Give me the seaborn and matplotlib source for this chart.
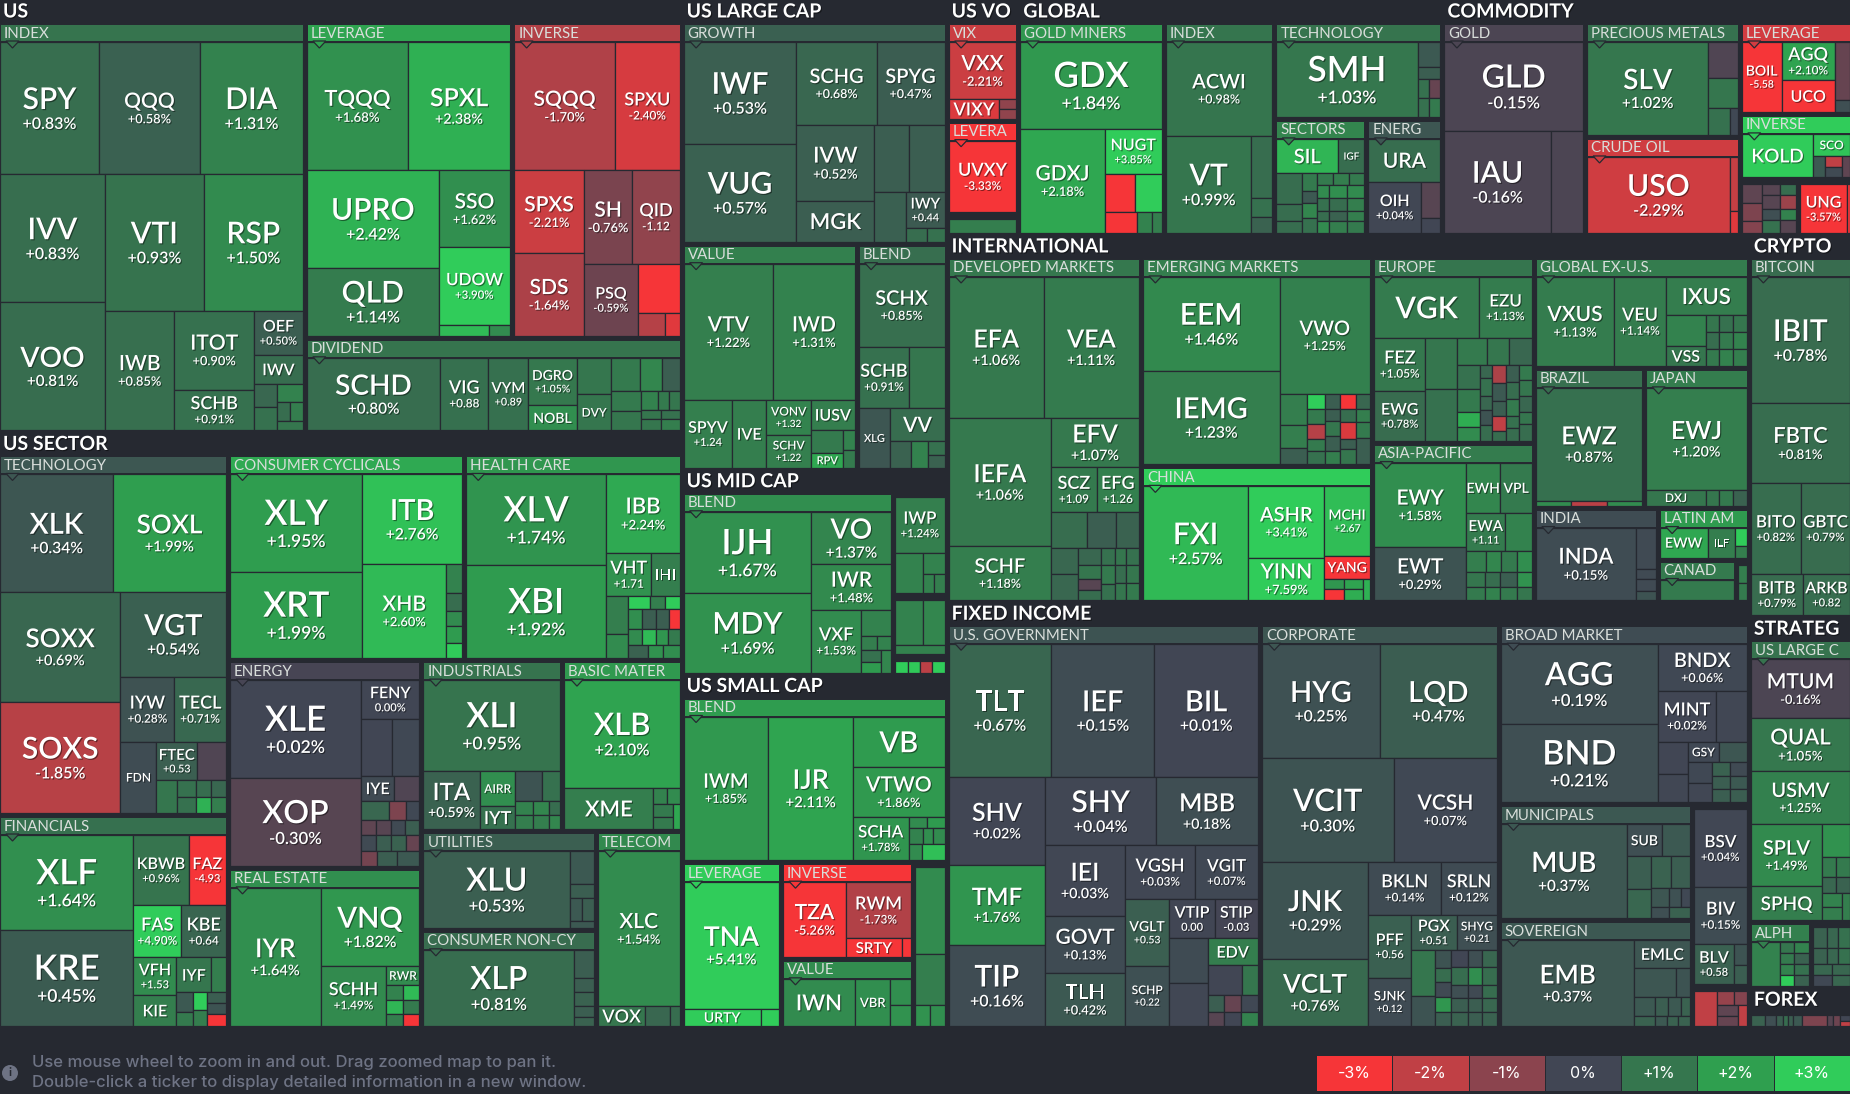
import matplotlib
matplotlib.use("Agg")
import matplotlib.pyplot as plt
import matplotlib.patheffects as pe
from matplotlib.patches import Circle, Polygon
import numpy as np
import pandas as pd
import seaborn as sns

# --- Fund tiles: (ticker, tile size, % change). Nesting = row / column split ---
US_INDEX = [
    [("SPY", 12838, 0.83), ("QQQ", 13100, 0.58), ("DIA", 13362, 1.31)],
    [[("IVV", 13184, 0.83), ("VOO", 13184, 0.81)],
     [[("VTI", 13230, 0.93), ("RSP", 13230, 1.50)],
      [("IWB", 8160, 0.85), [("ITOT", 6162, 0.90), ("SCHB", 3198, 0.91)],
       [("OEF", 2107, 0.50), ("IWV", 1421, 0.80),
        [[("", 520, 0.7), ("", 520, 0.9)],
         [("", 440, 1.3), [("", 250, 0.8), ("", 250, 1.2)], ("", 235, 1.0)]]]]]],
]
US_LEVERAGE = [
    [("TQQQ", 12700, 1.68), ("SPXL", 12830, 2.38)],
    [[("UPRO", 12610, 2.42), ("QLD", 8840, 1.14)],
     [("SSO", 5396, 1.62), ("UDOW", 5396, 3.90), [("", 540, 2.6), ("", 230, 1.5)]]],
]
US_INVERSE = [
    [("SQQQ", 12700, -1.70), ("SPXU", 8128, -2.40)],
    [[("SPXS", 5658, -2.21), ("SDS", 5658, -1.64)],
     [[("SH", 4416, -0.76), ("QID", 4324, -1.12)],
      [("PSQ", 3816, -0.59),
       [("", 2016, -4.0), [("", 620, -1.8), ("", 320, -2.6)]]]]],
]
US_DIVIDEND = [[
    ("SCHD", 9490, 0.80), ("VIG", 3431, 0.88), ("VYM", 2847, 0.89),
    [("DGRO", 2256, 1.05), ("NOBL", 1200, 1.60)],
    [("", 1224, 1.0), ("DVY", 1224, 1.0)],
    [[("", 928, 1.1), ("", 704, 1.4), ("", 576, 0.5)],
     [[("", 580, 1.1), ("", 580, 1.0)],
      [[("", 323, 1.3), ("", 209, 1.1), ("", 190, 1.0)],
       [("", 180, 1.0), ("", 171, 0.9)],
       [("", 220, 1.0), ("", 209, 1.2)]]]]]]

SEC_TECH = [
    [("XLK", 13000, 0.34), ("SOXL", 13000, 1.99)],
    [[("SOXX", 13090, 0.69), ("SOXS", 13090, -1.85)],
     [("VGT", 8881, 0.54), [("IYW", 3402, 0.28), ("TECL", 3276, 0.71)],
      [("FDN", 2520, 0.15),
       [[("FTEC", 1558, 0.53), ("", 1102, -0.2)],
        [("", 660, 1.0), [("", 304, 0.9), ("", 304, 0.9)],
         [[("", 240, 0.8), ("", 240, 0.7)], [("", 240, 2.4), ("", 240, 1.2)]]]]]]],
]
SEC_FIN = [[
    [("XLF", 12445, 1.64), ("KRE", 12576, 0.45)],
    [[("KBWB", 3808, 0.96), ("FAZ", 2584, -4.93)],
     [("FAS", 2448, 4.90), ("KBE", 2295, 0.64)],
     [[("VFH", 1596, 1.53), ("KIE", 1302, 1.20)],
      [[("IYF", 1190, 1.0), ("", 510, 1.2)],
       [[("", 320, 0.4), ("", 224, 1.1)], [("", 252, 3.0), ("", 224, 1.2)],
        [("", 200, 0.5), ("", 200, 0.3), ("", 220, -3.5)]]]]]]]
SEC_CYCL = [[
    [("XLY", 12642, 1.95), ("XRT", 11223, 1.99)],
    [("ITB", 8730, 2.76),
     [("XHB", 7695, 2.60),
      [("", 448, 1.3), ("", 288, 0.8), ("", 240, 1.5), ("", 256, 1.9), ("", 240, 3.0)]]]]]
SEC_HEALTH = [[
    [("XLV", 12467, 1.74), ("XBI", 12878, 1.92)],
    [("IBB", 5625, 2.24), [("VHT", 1890, 1.71), ("IHI", 1218, 1.2)],
     [[("", 800, 1.2), ("", 520, 1.5)],
      [[("", 280, 3.0), ("", 196, 1.2), ("", 196, 3.0)],
       [("", 266, 1.6), ("", 266, 0.5), ("", 228, 0.5), ("", 209, -3.5)],
       [("", 224, 1.5), ("", 224, 2.6), ("", 192, 1.8), ("", 192, 1.1)],
       [("", 256, 0.6), ("", 192, 1.7), ("", 208, 1.6)]]]]]]
SEC_ENERGY = [[
    [("XLE", 12513, 0.02), ("XOP", 11223, -0.30)],
    [("FENY", 2183, 0.00), [("", 1705, 0.02), ("", 1540, 0.05)],
     [("IYE", 825, 0.10), ("", 625, -0.2)],
     [("", 532, 0.7), ("", 323, -0.8), ("", 247, 0.05)],
     [("", 210, -0.4), ("", 210, -0.3), ("", 196, 0.1), ("", 196, 0.5)],
     [("", 240, 0.1), ("", 240, 0.5), ("", 240, 0.6), ("", 224, -0.5)],
     [("", 224, -0.7), ("", 280, 0.5), ("", 322, 0.4)]]]]
SEC_REIT = [[
    ("IYR", 12193, 1.64),
    [("VNQ", 7524, 1.82),
     [("SCHH", 3840, 1.49),
      [("RWR", 612, 1.5), [("", 238, 1.3), ("", 238, 2.6)],
       [("", 238, 2.5), ("", 238, 1.1)], [("", 187, 1.2), ("", 187, -4.0)]]]]]]
SEC_IND = [
    ("XLI", 12150, 0.95),
    [("ITA", 3186, 0.59), [("AIRR", 1225, 1.6), ("IYT", 805, 0.9)],
     [[("", 780, 0.3), ("", 540, 0.9)],
      [[("", 238, 1.3), ("", 238, 1.2)], [("", 224, 1.4), ("", 224, 1.2)],
       [("", 154, 0.8), ("", 154, 1.4)]]]],
]
SEC_BASIC = [
    ("XLB", 12091, 2.10),
    [("XME", 3570, 1.20),
     [[("", 224, 1.3), ("", 192, 1.5)],
      [[("", 240, 1.1), ("", 240, 1.1)], ("", 168, 2.2)]]],
]
SEC_UTIL = [[
    ("XLU", 10868, 0.53),
    [("", 759, 0.4), ("", 299, 0.5), [("", 264, 0.4), ("", 264, 0.5)], ("", 161, 0.4)]]]
SEC_STAPLE = [[
    ("XLP", 11096, 0.81),
    [("", 532, 0.5), ("", 266, 0.5), ("", 247, 0.6), ("", 209, 0.5), ("", 171, 0.6)]]]
SEC_TELE = [
    ("XLC", 12218, 1.54),
    [("VOX", 920, 1.0), ("", 480, 0.7), ("", 180, 0.8)],
]

LARGE_GROWTH = [[
    [("IWF", 11322, 0.53), ("VUG", 10878, 0.57)],
    [[("SCHG", 6560, 0.68), ("SPYG", 5576, 0.47)],
     [[("IVW", 5775, 0.52), ("MGK", 3157, 0.50)],
      [[("", 2310, 0.5), ("", 2310, 0.5)],
       [("", 1550, 0.55),
        [("IWY", 1365, 0.44), [("", 294, 0.8), ("", 238, 0.9)]]]]]]]]
LARGE_VALUE = [
    [("VTV", 12015, 1.22), ("IWD", 10935, 1.31)],
    [("SPYV", 3243, 1.24), ("IVE", 2277, 1.20),
     [("VONV", 1540, 1.32), ("SCHV", 1452, 1.22)],
     [("IUSV", 1276, 1.20),
      [[("", 736, 1.1), ("RPV", 480, 2.2)], [("", 220, 1.3), ("", 198, 1.1)]]]],
]
LARGE_BLEND = [
    ("SCHX", 7052, 0.85),
    [("SCHB", 3050, 0.91), ("", 2135, 1.0)],
    [("XLG", 1860, 0.35),
     [("VV", 1728, 0.80),
      [("", 567, 0.6), ("", 432, 1.3), [("", 238, 0.9), ("", 221, 0.6)]]]],
]
MID_BLEND = [[
    [("IJH", 10250, 1.67), ("MDY", 10000, 1.69)],
    [("VO", 4160, 1.37), ("IWR", 3600, 1.48),
     [("VXF", 3072, 1.53),
      [("", 775, 1.3), [("", 224, 1.2), ("", 196, 1.3)],
       [[("", 240, 0.9), ("", 220, 1.9)], ("", 230, 1.4)]]]]]]
MID_SIDE_A = [
    ("IWP", 2703, 1.24),
    [("", 1080, 1.3), [("", 462, 1.3), [("", 209, 1.3), ("", 209, 1.2)]]],
]
MID_SIDE_B = [
    [("", 1232, 1.3), ("", 968, 1.4)],
    ("", 408, 1.3),
]
MID_SIDE_C = [[("", 143, 3.0), ("", 143, 2.9), ("", 143, -1.9), ("", 143, 3.0)]]
SMALL_BLEND = [[
    ("IWM", 11952, 1.85), ("IJR", 11952, 2.11),
    [("VB", 4557, 1.90), ("VTWO", 4464, 1.86),
     [("SCHA", 2376, 1.78),
      [[("", 198, 1.5), ("", 198, 1.9)],
       [("", 224, 1.3), ("", 160, 1.6), ("", 192, 1.5)],
       [("", 210, 1.5), ("", 360, 2.7)]]]]]]
SMALL_LEV = [("TNA", 11590, 5.41), [("URTY", 1292, 3.60), ("", 306, 3.0)]]
SMALL_INV = [[
    ("TZA", 4526, -5.26),
    [("RWM", 3498, -1.73), [("SRTY", 990, -5.0), ("", 162, -4.5)]]]]
SMALL_VALUE = [[("IWN", 3266, 1.50), ("VBR", 1610, 1.60), [("", 520, 1.6), ("", 400, 1.7)]]]
SMALL_SIDE = [("", 2490, 1.5), ("", 1470, 1.2), [("", 300, 1.7), ("", 300, 1.6)]]

VO_VIX = [("VXX", 3740, -2.21), [("VIXY", 950, -2.50), [("", 162, -1.1), ("", 162, -1.1)]]]
VO_LEV = [("UVXY", 4692, -3.33)]
VO_SIDE = [("", 884, 1.2)]

GL_GOLD = [
    ("GDX", 11592, 1.84),
    [("GDXJ", 8343, 2.18),
     [("NUGT", 2464, 3.85),
      [("", 1073, -4.0), ("", 962, 3.2)],
      [("", 651, -4.0), ("", 315, 1.3), ("", 189, 1.2)]]],
]
GL_INDEX = [
    ("ACWI", 9464, 0.98),
    [("VT", 7872, 0.99), [("", 1220, 0.8), ("", 380, 0.9), ("", 320, 0.6)]],
]
GL_TECH = [[
    ("SMH", 10008, 1.03),
    [("", 528, 0.4), ("", 264, 0.5), [("", 209, 0.9), ("", 209, -0.5)],
     [("", 198, 0.9), ("", 198, 1.1)]]]]
GL_SECT = [
    [("SIL", 2006, 2.50), ("IGF", 841, 0.80)],
    [[("", 750, 0.8), ("", 400, 0.8), ("", 300, 0.8)],
     [("", 252, 1.1), ("", 168, 0.4), ("", 210, 1.4), ("", 210, 0.9)],
     [[("", 176, 1.1), ("", 176, 1.2), ("", 176, 1.1)],
      [("", 144, 1.5), ("", 216, 1.6), ("", 216, 1.5)],
      [("", 144, 0.9), ("", 216, 0.8), ("", 216, 1.2)],
      [("", 120, 0.8), ("", 180, 0.6), ("", 180, 1.2)],
      [("", 132, 1.5), ("", 198, 1.2), ("", 198, 1.1)]]],
]
GL_ENERGY = [("URA", 2898, 0.80), [("OIH", 2550, 0.04), [("", 665, -0.3), ("", 285, 0.0)]]]

CM_GOLD = [("GLD", 11658, -0.15), [("IAU", 10302, -0.16), ("", 3131, -0.15)]]
CM_PREC = [[
    ("SLV", 10672, 1.02),
    [("", 1015, -0.2), ("", 841, 1.0), [("", 567, 0.9), ("", 189, 0.05)]]]]
CM_CRUDE = [[("USO", 10275, -2.29), [("", 416, -2.1), ("", 168, -2.6)]]]
CM_LEV = [[
    ("BOIL", 2613, -5.58), [("AGQ", 1908, 2.10), ("UCO", 1590, -3.50)],
    [("", 840, -0.5), ("", 165, 0.2)]]]
CM_INV = [[
    ("KOLD", 2911, 4.50),
    [("SCO", 760, 2.80),
     [("", 240, 0.4), [("", 170, -2.0), ("", 170, 0.1)], ("", 160, -0.4)]]]]
CM_SIDE_A = [[
    [("", 342, -0.4), ("", 342, -0.8), ("", 228, -0.9)],
    [("", 187, -0.3), ("", 238, -0.3), ("", 187, 0.2), ("", 221, 0.9)],
    [("", 165, 0.8), ("", 210, -1.3), ("", 165, 1.3), ("", 195, -0.3)]]]
CM_SIDE_B = [[("UNG", 2160, -3.57), ("", 135, -3.0)]]

INT_DEV = [
    [("EFA", 12834, 1.06), ("VEA", 12834, 1.11)],
    [[("IEFA", 12642, 1.06), ("SCHF", 5292, 1.18)],
     [("EFV", 4136, 1.07), [("SCZ", 1980, 1.09), ("EFG", 1848, 1.26)],
      [("", 1224, 0.8), ("", 952, 0.5), ("", 782, 0.6)],
      [[("", 696, 0.7), ("", 672, 0.7)],
       [("", 380, 0.7), ("", 300, 1.0), ("", 240, -0.3), ("", 220, 0.8)],
       [("", 240, 0.9), ("", 260, 1.1), ("", 220, 0.9)],
       [("", 190, 1.0), ("", 190, 0.8), ("", 190, 1.0)],
       [("", 210, 0.9), ("", 210, 1.0), ("", 210, 1.1)]]]],
]
INT_EM = [[
    [("EEM", 12276, 1.46), ("IEMG", 12276, 1.23)],
    [("VWO", 10170, 1.25),
     [[("", 800, 1.2), ("", 600, 1.2), ("", 425, 0.5)],
      [("", 270, 3.0), ("", 270, 1.1), ("", 270, -1.8), ("", 216, 1.1), ("", 234, 0.9)],
      [("", 210, 0.5), ("", 182, 0.5), ("", 210, 1.0), ("", 210, 0.5), ("", 196, 1.2)],
      [("", 225, -3.5), ("", 195, 0.8), ("", 255, -2.5), ("", 150, 0.5), ("", 240, 1.0)],
      [("", 195, 0.7), ("", 170, 1.2), ("", 220, 1.1), ("", 350, 0.5)]]]]]
INT_CHINA = [[
    ("FXI", 11514, 2.57),
    [("ASHR", 5180, 3.41), ("YINN", 3108, 7.59)],
    [("MCHI", 3036, 2.67), ("YANG", 1012, -4.50),
     [[("", 200, 1.8), ("", 200, -4.5)], [("", 200, 2.1), ("", 200, 2.3)], ("", 150, 2.4)]]]]
INT_EUROPE = [
    [("VGK", 6148, 1.12), ("EZU", 3074, 1.13)],
    [[("FEZ", 2597, 1.05), ("EWG", 2450, 0.78)],
     [("", 1560, 1.0), ("", 1590, 0.9)],
     [[("", 750, 1.1), ("", 575, 1.0), ("", 575, 0.7)],
      [[("", 528, 0.9), ("", 506, 1.1), ("", 330, 2.3), ("", 308, 1.5)],
       [("", 156, 0.7), ("", 208, 0.9), ("", 156, 0.7), ("", 180, 0.3), ("", 180, 0.8)],
       [("", 238, -1.6), ("", 225, 0.4), ("", 200, 0.5), ("", 190, -2.0), ("", 120, 0.8)],
       [("", 208, 0.5), ("", 208, 0.8), ("", 208, 1.1), ("", 156, 0.9), ("", 150, 0.8)],
       [("", 195, 1.1), ("", 208, 1.0), ("", 208, 0.7), ("", 156, 1.0), ("", 208, 0.8)]]]],
]
INT_ASIA = [[
    [("EWY", 7480, 1.58), ("EWT", 4664, 0.29)],
    [[("EWH", 1656, 1.40), ("VPL", 1518, 1.10)],
     [("EWA", 1435, 1.11), ("", 980, 1.3)],
     [("", 380, 1.2), ("", 300, 1.4), ("", 320, 1.1), ("", 290, 1.6)],
     [("", 270, 1.0), ("", 220, 0.8), ("", 240, 0.5), ("", 210, 1.7)],
     [("", 240, 1.1), ("", 200, 1.3), ("", 220, 1.1), ("", 190, 1.0)]]]]
INT_GLOBAL = [[
    ("VXUS", 6643, 1.13), ("VEU", 4368, 1.14),
    [("IXUS", 2964, 1.15),
     [[("", 1178, 1.3), ("VSS", 760, 1.0)],
      [[("", 221, 1.0), ("", 221, 0.9), ("", 221, 1.0)],
       [("", 221, 0.8), ("", 221, 1.1), ("", 221, 1.3)],
       [("", 221, 1.1), ("", 221, 1.3), ("", 221, 1.2)]]]]]]
INT_BRAZIL = [("EWZ", 11424, 0.87), [("", 170, 1.5), ("", 170, -1.9), ("", 170, 1.5)]]
INT_JAPAN = [("EWJ", 9792, 1.20), [("DXJ", 896, 1.0), ("", 208, 1.0), ("", 208, 1.1), ("", 208, 0.6)]]
INT_INDIA = [[("INDA", 6674, 0.15), [("", 741, 0.1), ("", 190, 0.1), ("", 209, 0.1), ("", 171, 0.3)]]]
INT_LATIN = [[("EWW", 1305, 2.20), ("ILF", 754, 1.20), [("", 198, 3.0), ("", 121, 1.2)]]]
INT_CANADA = [("", 1420, 1.10)]
INT_SIDE = [("", 144, 1.2), ("", 135, 1.1)]

CRYPTO_BTC = [
    ("IBIT", 12300, 0.78), ("FBTC", 7800, 0.81),
    [("BITO", 4450, 0.82), ("GBTC", 4361, 0.79)],
    [("BITB", 2132, 0.79), ("ARKB", 1927, 0.82)],
]
STRAT_LARGE = [
    ("MTUM", 5700, -0.16), ("QUAL", 5100, 1.05), ("USMV", 5100, 1.25),
    [[("SPLV", 4331, 1.49), ("SPHQ", 2343, 1.20)],
     [("", 896, 1.7), [("", 266, 1.1), ("", 266, 1.1)], [("", 224, 0.7), ("", 224, 0.6)],
      [[("", 260, 1.3), ("", 260, 1.2)], ("", 208, 1.2)]]],
]
STRAT_ALPHA = [[
    ("", 1215, 1.3),
    [[("", 154, 1.0), ("", 154, 1.3)], [("", 154, 1.1), ("", 154, 0.6)],
     [("", 154, 1.3), ("", 154, 0.9)], [("", 154, 3.0), ("", 154, 0.6)]]]]
STRAT_SIDE = [
    [("", 266, 0.6), ("", 228, 0.7), ("", 228, 0.9)],
    [("", 210, 0.6), ("", 180, 0.7), ("", 180, 0.9)],
    [("", 198, 0.7), ("", 198, 0.7)],
    [("", 198, 0.05), ("", 198, 0.7)],
]
FOREX_PAIRS = [[
    ("", 150, 0.6), ("", 115, 0.2), ("", 75, 0.5), ("", 50, 0.8), ("", 50, 0.5), ("", 100, 0.4),
    ("", 265, -0.8), ("", 65, -0.3), ("", 65, -0.6), [("", 55, 0.0), ("", 55, -2.0)]]]

FI_GOV = [
    [("TLT", 13100, 0.67), ("IEF", 13231, 0.15), ("BIL", 13231, 0.01)],
    [[("SHV", 8178, 0.02), ("TMF", 7520, 1.76), ("TIP", 7520, 0.16)],
     [[("SHY", 7344, 0.04), ("MBB", 6732, 0.18)],
      [[("IEI", 5390, 0.03), ("GOVT", 4389, 0.13), ("TLH", 4081, 0.42)],
       [[("VGSH", 3657, 0.03), ("VGIT", 3233, 0.07)],
        [[("VGLT", 2881, 0.53), ("SCHP", 2580, 0.22)],
         [[("VTIP", 1716, 0.00), ("STIP", 1638, -0.03)],
          [[("", 1628, 0.12), ("", 1591, 0.03)],
           [("EDV", 1300, 1.20),
            [("", 986, 0.0), ("", 464, 1.0)],
            [("", 256, 0.5), ("", 272, -0.5), ("", 272, 0.05)],
            [("", 224, -0.3), ("", 238, 0.0), ("", 238, 1.3)]]]]]]]]],
]
FI_CORP = [
    [("HYG", 12992, 0.25), ("LQD", 12880, 0.47)],
    [("VCIT", 13158, 0.30), ("VCSH", 10302, 0.07)],
    [[("JNK", 9991, 0.29), ("VCLT", 6901, 0.76)],
     [[("BKLN", 3692, 0.14), ("SRLN", 2860, 0.12)],
      [[("PFF", 2583, 0.56), ("SJNK", 1968, 0.12)],
       [[("PGX", 1575, 0.51), ("SHYG", 1368, 0.21)],
        [[("", 1081, 1.0), ("", 690, 0.3)],
         [("", 272, 0.3), ("", 224, 0.8), ("", 224, 0.1), ("", 240, 1.8), ("", 208, 0.5)],
         [("", 272, 0.0), ("", 288, 0.8), ("", 224, 0.2), ("", 224, 0.5), ("", 224, 0.6)],
         [("", 238, 0.2), ("", 252, 1.6), ("", 196, 0.1), ("", 196, 0.5), ("", 196, 0.5)],
         [("", 238, 0.7), ("", 252, 0.8), ("", 196, 0.8), ("", 196, 0.7), ("", 196, 0.6)]]]]]],
]
FI_BROAD = [[
    [("AGG", 12008, 0.19), ("BND", 11856, 0.21)],
    [("BNDX", 4005, 0.06), [("MINT", 2850, 0.02), ("", 1500, 0.04)],
     [[("", 957, 0.02), ("", 812, 0.03)],
      [[("GSY", 620, 0.05), ("", 560, 0.35)],
       [[("", 483, 0.05), ("", 460, 0.03)],
        [[("", 221, 0.6), ("", 221, 0.1)], [("", 221, 0.5), ("", 221, 0.4)],
         [("", 221, 0.5), ("", 221, 0.5)]]]]]]]]
FI_MUNI = [[
    ("MUB", 11280, 0.37),
    [[("SUB", 1085, 0.20), ("", 837, 0.40)],
     [[("", 768, 0.5), ("", 696, 0.7)],
      [[("", 589, 0.6), ("", 589, 0.5)],
       [("", 323, 0.35), ("", 228, 0.25), ("", 171, 0.05)],
       [("", 187, 0.2), ("", 231, 0.6)]]]]]]
FI_SOV = [[
    ("EMB", 10922, 0.37),
    [("EMLC", 1456, 0.35), [("", 1148, 0.35), ("", 392, 0.3)],
     [("", 380, 0.4), ("", 228, 0.5), ("", 228, 0.4), ("", 171, 0.6)],
     [("", 200, 0.6), ("", 120, 0.4), ("", 110, 0.6), ("", 120, 0.6)]]]]
FI_SIDE_A = [
    ("BSV", 3922, 0.04), ("BIV", 2862, 0.15),
    [("BLV", 1521, 0.58), [("", 260, 0.3), ("", 234, 0.5)]],
]
FI_SIDE_B = [[
    ("", 756, -2.0),
    [[("", 240, -1.2), ("", 180, -0.9)],
     [[("", 210, -0.4), ("", 210, -0.5)], ("", 180, -2.0)]]]]

# tiles that show the ticker only / the change without the % sign
TICKER_ONLY = {"IWV", "NOBL", "DVY", "FDN", "IHI", "IYE", "KIE", "AIRR", "IYT", "XME", "VOX", "IVE",
               "XLG", "IUSV", "VV", "MGK", "RPV", "RWR", "IYF", "URTY", "SRTY", "VB", "VBR", "IWN",
               "SIL", "IGF", "URA", "UCO", "SCO", "KOLD", "YANG", "VSS", "IXUS", "VIXY", "EWH", "VPL",
               "DXJ", "EWW", "ILF", "EDV", "GSY", "SUB", "EMLC", "SPHQ", "VGK"}
NO_PCT = {"VIG", "VYM", "QID", "FTEC", "VFH", "KBE", "FAZ", "VHT", "SPYV", "VONV", "SCHV", "IWY", "BOIL",
          "MCHI", "SCZ", "EFG", "EWA", "VGLT", "VTIP", "STIP", "SCHP", "PFF", "PGX", "SHYG", "SJNK",
          "BLV", "ARKB"}

TICKER_PX = {
    "SPY": 30, "QQQ": 21, "DIA": 30, "IVV": 30, "VTI": 30, "RSP": 30, "VOO": 28, "IWB": 21, "ITOT": 21,
    "SCHB": 18, "OEF": 16, "IWV": 16, "TQQQ": 22, "SPXL": 25, "SQQQ": 21, "SPXU": 18, "UPRO": 30, "QLD": 30,
    "SSO": 21, "UDOW": 17, "SPXS": 21, "SH": 21, "QID": 18, "SDS": 21, "PSQ": 16, "SCHD": 28, "VIG": 18,
    "VYM": 15, "DGRO": 14, "NOBL": 14, "DVY": 12, "XLK": 29, "SOXL": 26, "SOXX": 26, "VGT": 29, "IYW": 18,
    "TECL": 18, "SOXS": 30, "FDN": 12, "FTEC": 15, "XLF": 35, "KRE": 35, "KBWB": 16, "FAZ": 16, "FAS": 18,
    "KBE": 18, "VFH": 16, "IYF": 16, "KIE": 16, "XLY": 35, "XRT": 35, "ITB": 29, "XHB": 21, "XLV": 35,
    "XBI": 35, "IBB": 22, "VHT": 18, "IHI": 16, "XLE": 35, "XOP": 32, "FENY": 16, "IYE": 16, "IYR": 26,
    "VNQ": 29, "SCHH": 18, "RWR": 12, "XLI": 35, "ITA": 24, "AIRR": 12, "IYT": 18, "XLB": 31, "XME": 22,
    "XLU": 32, "XLP": 32, "XLC": 21, "VOX": 18, "IWF": 30, "VUG": 30, "SCHG": 20, "SPYG": 20, "IVW": 22,
    "MGK": 22, "IWY": 15, "VTV": 21, "IWD": 21, "SPYV": 16, "IVE": 16, "VONV": 12, "SCHV": 12, "IUSV": 16,
    "RPV": 11, "SCHX": 20, "XLG": 11, "VV": 21, "IJH": 35, "MDY": 30, "VO": 28, "IWR": 21, "VXF": 18,
    "IWP": 17, "IWM": 20, "IJR": 27, "VB": 29, "VTWO": 21, "SCHA": 17, "TNA": 27, "TZA": 21, "RWM": 18,
    "SRTY": 15, "IWN": 22, "VBR": 13, "URTY": 14, "VXX": 21, "VIXY": 18, "UVXY": 18, "GDX": 35, "GDXJ": 21,
    "NUGT": 16, "ACWI": 20, "VT": 30, "SMH": 35, "SIL": 20, "IGF": 10, "URA": 21, "OIH": 16, "GLD": 32,
    "IAU": 30, "SLV": 28, "USO": 30, "BOIL": 14, "AGQ": 18, "UCO": 16, "KOLD": 19, "SCO": 12, "UNG": 16,
    "EFA": 25, "VEA": 25, "EEM": 30, "VWO": 20, "IEMG": 29, "EFV": 25, "IEFA": 25, "SCZ": 18, "EFG": 18,
    "SCHF": 20, "FXI": 30, "ASHR": 20, "MCHI": 14, "YINN": 21, "YANG": 14, "VGK": 30, "EZU": 17, "FEZ": 18,
    "EWG": 16, "EWY": 21, "EWH": 14, "VPL": 14, "EWA": 15, "EWT": 21, "VXUS": 21, "VEU": 18, "IXUS": 22,
    "VSS": 16, "EWZ": 25, "EWJ": 25, "DXJ": 12, "INDA": 22, "EWW": 14, "ILF": 11, "IBIT": 30, "FBTC": 22,
    "BITO": 17, "GBTC": 17, "BITB": 17, "ARKB": 16, "MTUM": 21, "QUAL": 22, "USMV": 20, "SPLV": 20, "SPHQ": 19,
    "TLT": 29, "IEF": 29, "BIL": 29, "SHV": 25, "SHY": 30, "MBB": 25, "TMF": 24, "TIP": 30, "IEI": 25,
    "GOVT": 21, "TLH": 21, "VGSH": 18, "VGIT": 17, "VGLT": 14, "SCHP": 12, "VTIP": 16, "STIP": 16, "EDV": 16,
    "HYG": 29, "LQD": 29, "VCIT": 31, "VCSH": 21, "JNK": 29, "VCLT": 26, "BKLN": 18, "SRLN": 18, "PFF": 16,
    "SJNK": 13, "PGX": 16, "SHYG": 12, "AGG": 32, "BND": 34, "BNDX": 20, "MINT": 18, "GSY": 12, "MUB": 28,
    "SUB": 14, "EMB": 26, "EMLC": 16, "BSV": 17, "BIV": 18, "BLV": 16,
}

BG = "#262931"
SCALE_COLORS = ["#f63538", "#bf4045", "#8b444e", "#414554", "#35764e", "#2f9e4f", "#30cc5a"]
LEGEND_VALUES = [-3, -2, -1, 0, 1, 2, 3]
LEGEND_LABELS = ["-3%", "-2%", "-1%", "0%", "+1%", "+2%", "+3%"]
FOOTER = ["Use mouse wheel to zoom in and out. Drag zoomed map to pan it.",
          "Double-click a ticker to display detailed information in a new window."]


def top(name, items):
    return {"name": name, "items": items, "head": 22, "pad": (0, 0, 0, 0), "kind": "top"}


def sub(name, items):
    return {"name": name, "items": items, "head": 18, "pad": (2, 2, 2, 2), "kind": "sub"}


def blank(items):
    return {"name": "", "items": items, "head": 0, "pad": (5, 2, 2, 2), "kind": "blank"}


TREE = [[
    [top("US", [[sub("INDEX", US_INDEX),
                 [[sub("LEVERAGE", US_LEVERAGE), sub("INVERSE", US_INVERSE)],
                  sub("DIVIDEND", US_DIVIDEND)]]]),
     top("US SECTOR", [[
         [sub("TECHNOLOGY", SEC_TECH), sub("FINANCIALS", SEC_FIN)],
         [[sub("CONSUMER CYCLICALS", SEC_CYCL), sub("HEALTH CARE", SEC_HEALTH)],
          [[sub("ENERGY", SEC_ENERGY), sub("REAL ESTATE", SEC_REIT)],
           [[sub("INDUSTRIALS", SEC_IND), sub("BASIC MATER", SEC_BASIC)],
            [[sub("UTILITIES", SEC_UTIL), sub("CONSUMER NON-CY", SEC_STAPLE)],
             sub("TELECOM", SEC_TELE)]]]]]])],
    [top("US LARGE CAP", [sub("GROWTH", LARGE_GROWTH),
                          [sub("VALUE", LARGE_VALUE), sub("BLEND", LARGE_BLEND)]]),
     top("US MID CAP", [[sub("BLEND", MID_BLEND),
                         [blank(MID_SIDE_A), blank(MID_SIDE_B), blank(MID_SIDE_C)]]]),
     top("US SMALL CAP", [sub("BLEND", SMALL_BLEND),
                          [sub("LEVERAGE", SMALL_LEV),
                           [sub("INVERSE", SMALL_INV), sub("VALUE", SMALL_VALUE)],
                           blank(SMALL_SIDE)]])],
    [[top("US VO", [sub("VIX", VO_VIX), sub("LEVERA", VO_LEV), blank(VO_SIDE)]),
      top("GLOBAL", [[sub("GOLD MINERS", GL_GOLD), sub("INDEX", GL_INDEX),
                      [sub("TECHNOLOGY", GL_TECH),
                       [sub("SECTORS", GL_SECT), sub("ENERG", GL_ENERGY)]]]]),
      top("COMMODITY", [[sub("GOLD", CM_GOLD),
                         [sub("PRECIOUS METALS", CM_PREC), sub("CRUDE OIL", CM_CRUDE)],
                         [sub("LEVERAGE", CM_LEV), sub("INVERSE", CM_INV),
                          [blank(CM_SIDE_A), blank(CM_SIDE_B)]]]])],
     [[top("INTERNATIONAL", [[
         sub("DEVELOPED MARKETS", INT_DEV),
         [sub("EMERGING MARKETS", INT_EM), sub("CHINA", INT_CHINA)],
         [sub("EUROPE", INT_EUROPE), sub("ASIA-PACIFIC", INT_ASIA)],
         [sub("GLOBAL EX-U.S.", INT_GLOBAL),
          [sub("BRAZIL", INT_BRAZIL), sub("JAPAN", INT_JAPAN)],
          [sub("INDIA", INT_INDIA),
           [sub("LATIN AM", INT_LATIN),
            [sub("CANAD", INT_CANADA), blank(INT_SIDE)]]]]]]),
       top("FIXED INCOME", [[
           sub("U.S. GOVERNMENT", FI_GOV), sub("CORPORATE", FI_CORP),
           [sub("BROAD MARKET", FI_BROAD),
            [[sub("MUNICIPALS", FI_MUNI), sub("SOVEREIGN", FI_SOV)],
             [blank(FI_SIDE_A), blank(FI_SIDE_B)]]]]])],
      [top("CRYPTO", [sub("BITCOIN", CRYPTO_BTC)]),
       top("STRATEG", [sub("US LARGE C", STRAT_LARGE),
                       [sub("ALPH", STRAT_ALPHA), blank(STRAT_SIDE)]]),
       top("FOREX", [blank(FOREX_PAIRS)])]]],
]]


def is_group(n):
    return isinstance(n, dict)


def total(n):
    if is_group(n):
        return total(n["items"])
    if isinstance(n, tuple):
        return n[1]
    return sum(total(c) for c in n)


def weighted_change(n):
    if is_group(n):
        return weighted_change(n["items"])
    if isinstance(n, tuple):
        return n[1] * n[2]
    return sum(weighted_change(c) for c in n)


def over(n, along_y, vertical):
    # space taken by headers and gaps; across a split use mostly the area-weighted mean
    if isinstance(n, tuple):
        return 0
    if is_group(n):
        t, r, b, l = n["pad"]
        base = t + b + n["head"] if along_y else l + r
        return base + over(n["items"], along_y, True)
    vals = [over(c, along_y, not vertical) for c in n]
    if along_y == vertical:
        return sum(vals)
    mean = sum(v * total(c) for v, c in zip(vals, n)) / total(n)
    return 0.7 * mean + 0.3 * max(vals)


tiles, heads, titles = [], [], []


def place(n, x, y, w, h, vertical):
    if isinstance(n, tuple):
        tiles.append({"ticker": n[0], "change": n[2], "x": x, "y": y, "w": w, "h": h})
    elif is_group(n):
        t, r, b, l = n["pad"]
        x2, y2, w2, h2 = x + l, y + t, w - l - r, h - t - b
        if n["kind"] == "top":
            titles.append((n["name"], x + 5, y + 10.5))
        elif n["kind"] == "sub":
            heads.append({"name": n["name"], "x": x2, "y": y2, "w": w2, "h": n["head"] - 1,
                          "change": weighted_change(n) / total(n)})
        place(n["items"], x2, y2 + n["head"], w2, h2 - n["head"], True)
    else:
        length, cross = (h, w) if vertical else (w, h)
        ovs = [over(c, vertical, not vertical) for c in n]
        raw = [total(c) / max(cross - over(c, not vertical, not vertical), 1) for c in n]
        free = length - sum(ovs)
        pos = 0.0
        for c, ov, r in zip(n, ovs, raw):
            size = ov + free * r / sum(raw)
            if vertical:
                place(c, x, y + pos, w, size, False)
            else:
                place(c, x + pos, y, size, h, True)
            pos += size


place(TREE, -2, 0, 1854, 1028, True)
tile_df = pd.DataFrame(tiles)
head_df = pd.DataFrame(heads)

# --- Plot ---
sns.set_theme(style="dark", rc={"figure.facecolor": BG, "axes.facecolor": BG})
plt.rcParams["font.family"] = ["Lato", "DejaVu Sans"]
cmap = sns.blend_palette(SCALE_COLORS, n_colors=256, as_cmap=True)


def change_color(v):
    return cmap((np.clip(v, -3, 3) + 3) / 6)


fig = plt.figure(figsize=(18.5, 10.94), dpi=100, facecolor=BG)
ax = fig.add_axes([0, 0, 1, 1])
ax.set_xlim(0, 1850)
ax.set_ylim(1094, 0)
ax.axis("off")

ax.bar(tile_df["x"], tile_df["h"], tile_df["w"], bottom=tile_df["y"], align="edge",
       color=[change_color(v) for v in tile_df["change"]], edgecolor=BG, linewidth=0.9)
ax.bar(head_df["x"], head_df["h"], head_df["w"], bottom=head_df["y"], align="edge",
       color=[change_color(v) for v in head_df["change"]], edgecolor=BG, linewidth=0.7)

shadow = [pe.SimplePatchShadow(offset=(0.8, -0.8), shadow_rgbFace="black", alpha=0.45), pe.Normal()]
PT = 0.72

for _, r in head_df.iterrows():
    ax.add_patch(Polygon([(r.x + 6, r.y + r.h), (r.x + 19, r.y + r.h), (r.x + 12.5, r.y + r.h + 7)],
                         closed=True, facecolor=change_color(r.change), edgecolor=BG, linewidth=0.9, zorder=3))
    ax.text(r.x + 4, r.y + r.h / 2 + 5, r["name"], color="#d9dedb", fontsize=15 * PT, va="baseline",
            ha="left", zorder=4)

for name, x, y in titles:
    ax.text(x, y + 7, name, color="white", fontsize=19.5 * PT, weight="bold", va="baseline", ha="left",
            path_effects=shadow, zorder=4)

for _, r in tile_df[tile_df["ticker"] != ""].iterrows():
    t = TICKER_PX.get(r.ticker, 14)
    cx, cy = r.x + r.w / 2, r.y + r.h / 2
    if r.ticker in TICKER_ONLY:
        ax.text(cx, cy + 0.36 * t, r.ticker, color="white", fontsize=t * PT, weight="semibold", ha="center",
                va="baseline", path_effects=shadow, zorder=4)
        continue
    c = max(10, min(17.5, 5.5 + 0.35 * t))
    label = f"{r.change:+.2f}"
    if r.change == 0:
        label = "0.00"
    if r.ticker not in NO_PCT:
        label += "%"
    ax.text(cx, cy - 0.62 * c + 0.36 * t, r.ticker, color="white", fontsize=t * PT, weight="semibold",
            ha="center", va="baseline", path_effects=shadow, zorder=4)
    ax.text(cx, cy + 0.5 * t + 0.36 * c, label, color="white", fontsize=c * PT, weight="semibold",
            ha="center", va="baseline", path_effects=shadow, zorder=4)

# --- Footer ---
ax.add_patch(Circle((10, 1073), 8, facecolor="#6e7384", edgecolor="none"))
ax.text(10, 1073, "i", color=BG, fontsize=12 * PT, weight="bold", ha="center", va="center")
for line, y in zip(FOOTER, (1063, 1082)):
    ax.text(32, y, line, color="#6e7384", fontsize=16.7 * PT, family=["Inter", "DejaVu Sans"], weight="medium",
            ha="left", va="center")

# --- Legend strip ---
leg_ax = fig.add_axes([1316 / 1850, 1 - 1091 / 1094, 534 / 1850, 36 / 1094])
sns.heatmap(np.array([LEGEND_VALUES]), cmap=cmap, vmin=-3, vmax=3, cbar=False, ax=leg_ax,
            annot=np.array([LEGEND_LABELS]), fmt="", linewidths=0.5, linecolor=BG,
            annot_kws={"color": "white", "fontsize": 16 * PT, "family": ["Inter", "DejaVu Sans"]},
            xticklabels=False, yticklabels=False)

fig.savefig("out.png", dpi=100, facecolor=BG)
plt.close(fig)
